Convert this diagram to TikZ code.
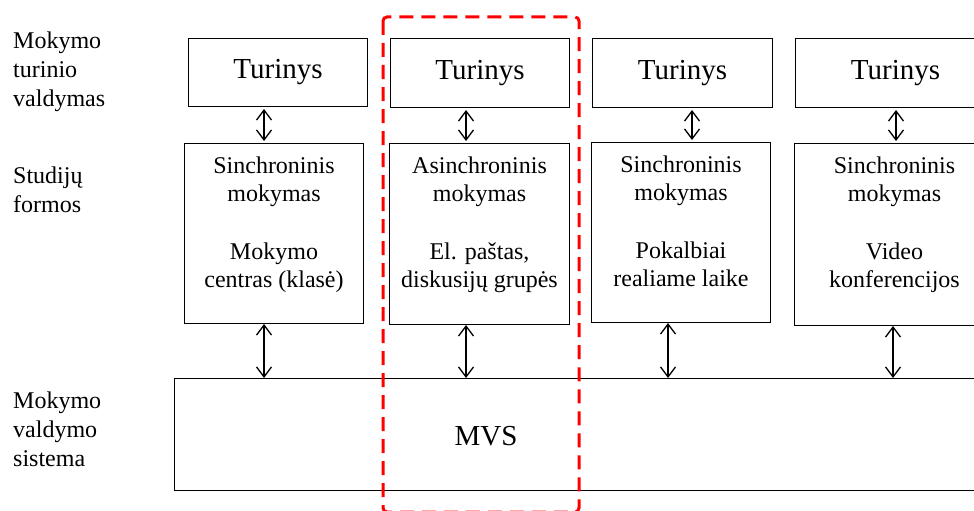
\documentclass[tikz,border=0pt]{standalone}
\usepackage{fontspec}
\setmainfont{Liberation Serif}
\usetikzlibrary{positioning,arrows.meta}

\tikzset{
  contentbox/.style={rectangle, draw, line width=1pt, inner sep=0pt, anchor=north west, font=\fontsize{29}{33}\selectfont},
  formbox/.style={rectangle, draw, line width=1pt, inner sep=0pt, anchor=north west},
  formtext/.style={inner sep=0pt, align=center, anchor=north, font=\fontsize{24}{28}\selectfont},
  sidetext/.style={inner sep=0pt, align=left, anchor=north west, font=\fontsize{24}{29}\selectfont},
  dblarrow/.style={line width=1.3pt, {Straight Barb[length=10pt,width=15pt]}-{Straight Barb[length=10pt,width=15pt]}},
}

\begin{document}
\begin{tikzpicture}[x=1pt, y=-1pt]
\useasboundingbox (0,0) rectangle (974,511);
\clip (0,0) rectangle (974,511);

% Left column labels
\node (lbltur) [sidetext] at (13,32) {Mokymo\\turinio\\valdymas};
\node (lblform) [sidetext] at (13,167) {Studijų\\formos};
\node (lblmvs) [sidetext] at (13,392) {Mokymo\\valdymo\\sistema};

% Content row
\node (tur1) [contentbox, minimum width=179pt, minimum height=68pt] at (188,38) {Turinys};
\node (tur2) [contentbox, minimum width=179pt, minimum height=69pt] at (390,38) {Turinys};
\node (tur3) [contentbox, minimum width=180pt, minimum height=69pt] at (592,38) {Turinys};
\node (tur4) [contentbox, minimum width=200pt, minimum height=69pt] at (795,38) {Turinys};

% Study forms row
\node (form1) [formbox, minimum width=179pt, minimum height=180pt] at (184,143) {};
\node (form2) [formbox, minimum width=180pt, minimum height=181pt] at (389,143) {};
\node (form3) [formbox, minimum width=179pt, minimum height=180pt] at (591,142) {};
\node (form4) [formbox, minimum width=200pt, minimum height=182pt] at (794,143) {};

\node (txt1) [formtext, below=14pt of form1.north] {Sinchroninis\\mokymas\\[30pt]Mokymo\\centras (klasė)};
\node (txt2) [formtext, below=14pt of form2.north] {Asinchroninis\\mokymas\\[30pt]El. paštas,\\diskusijų grupės};
\node (txt3) [formtext, below=14pt of form3.north] {Sinchroninis\\mokymas\\[30pt]Pokalbiai\\realiame laike};
\node (txt4) [formtext, below=14pt of form4.north] {Sinchroninis\\mokymas\\[30pt]Video\\konferencijos};

% Learning management system
\node (mvs) [formbox, minimum width=830pt, minimum height=112pt] at (174,378) {};
\node (mvstext) [inner sep=0pt, font=\fontsize{29}{33}\selectfont] at (486,436) {MVS};

% Arrows
\draw[dblarrow] ([yshift=-2pt]tur1.south -| 264,0) -- ([yshift=2pt]form1.north -| 264,0);
\draw[dblarrow] ([yshift=-2pt]tur2.south -| 466,0) -- ([yshift=2pt]form2.north -| 466,0);
\draw[dblarrow] ([yshift=-2pt]tur3.south -| 692,0) -- ([yshift=2pt]form3.north -| 692,0);
\draw[dblarrow] ([yshift=-2pt]tur4.south -| 896,0) -- ([yshift=2pt]form4.north -| 896,0);

\draw[dblarrow] (form1.south -| 264,0) -- (mvs.north -| 264,0);
\draw[dblarrow] (form2.south -| 466,0) -- (mvs.north -| 466,0);
\draw[dblarrow] (form3.south -| 668,0) -- (mvs.north -| 668,0);
\draw[dblarrow] (form4.south -| 893,0) -- (mvs.north -| 893,0);

% Highlighted column
\draw[red, line width=3pt, dash pattern=on 14pt off 8pt, rounded corners=4pt] (383,17) rectangle (579,512);
\end{tikzpicture}
\end{document}
